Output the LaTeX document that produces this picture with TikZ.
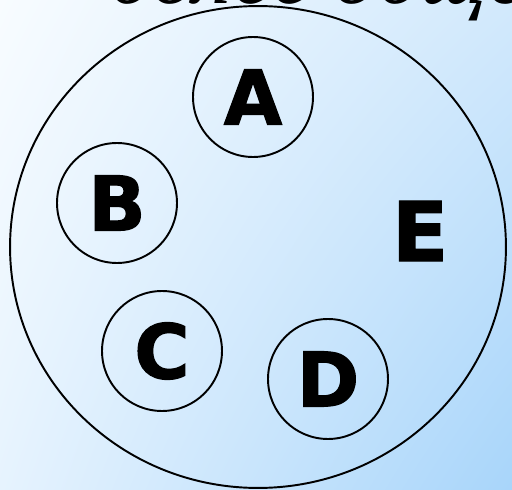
\documentclass[tikz,border=0pt]{standalone}
\usepackage{fontspec}
\usepackage{xcolor}
\usetikzlibrary{shapes.geometric, positioning, shadings}
\newfontfamily\letterfont{DejaVu Sans}[BoldFeatures={FakeBold=1.5}]
\newfontfamily\titlefont{Liberation Serif}
\definecolor{SkyPale}{HTML}{F8FCFF}
\definecolor{SkyLight}{HTML}{D2E9FC}
\definecolor{SkyMid}{HTML}{E6F3FE}
\definecolor{SkyDeep}{HTML}{A8D5FA}
\tikzset{
    setring/.style={
        draw=black,
        line width=1.1pt,
        circle,
        minimum size=2.4cm,
        inner sep=0pt,
        font=\letterfont\fontsize{43}{43}\selectfont\bfseries
    },
    biglabel/.style={
        font=\letterfont\fontsize{47}{47}\selectfont\bfseries
    },
    outerset/.style={
        draw=black,
        line width=1.1pt,
        ellipse,
        minimum width=9.92cm,
        minimum height=9.64cm,
        inner sep=0pt
    }
}

\begin{document}
\begin{tikzpicture}[x=0.02cm, y=-0.02cm]
        \useasboundingbox (0,0) rectangle (512,490);
        \clip (0,0) rectangle (512,490);
        % Background
        \shade[upper left=SkyPale, upper right=SkyLight, lower left=SkyMid, lower right=SkyDeep]
            (0,0) rectangle (512,490);

        % Cut-off heading
        \node[anchor=base west, inner sep=0pt,
              font=\titlefont\itshape\fontsize{50}{50}\selectfont] (title) at (108,4) {более общее};

        % Outer set
        \node[outerset] (setE) at (258,247) {};
        \node[biglabel] (labelE) at (420,231) {E};

        % Inner sets
        \node[setring] (setA) at (253,97) {A};
        \node[setring] (setB) at (117,203) {B};
        \node[setring] (setC) at (162,351) {C};
        \node[setring] (setD) at (328,379) {D};
    \end{tikzpicture}
\end{document}
